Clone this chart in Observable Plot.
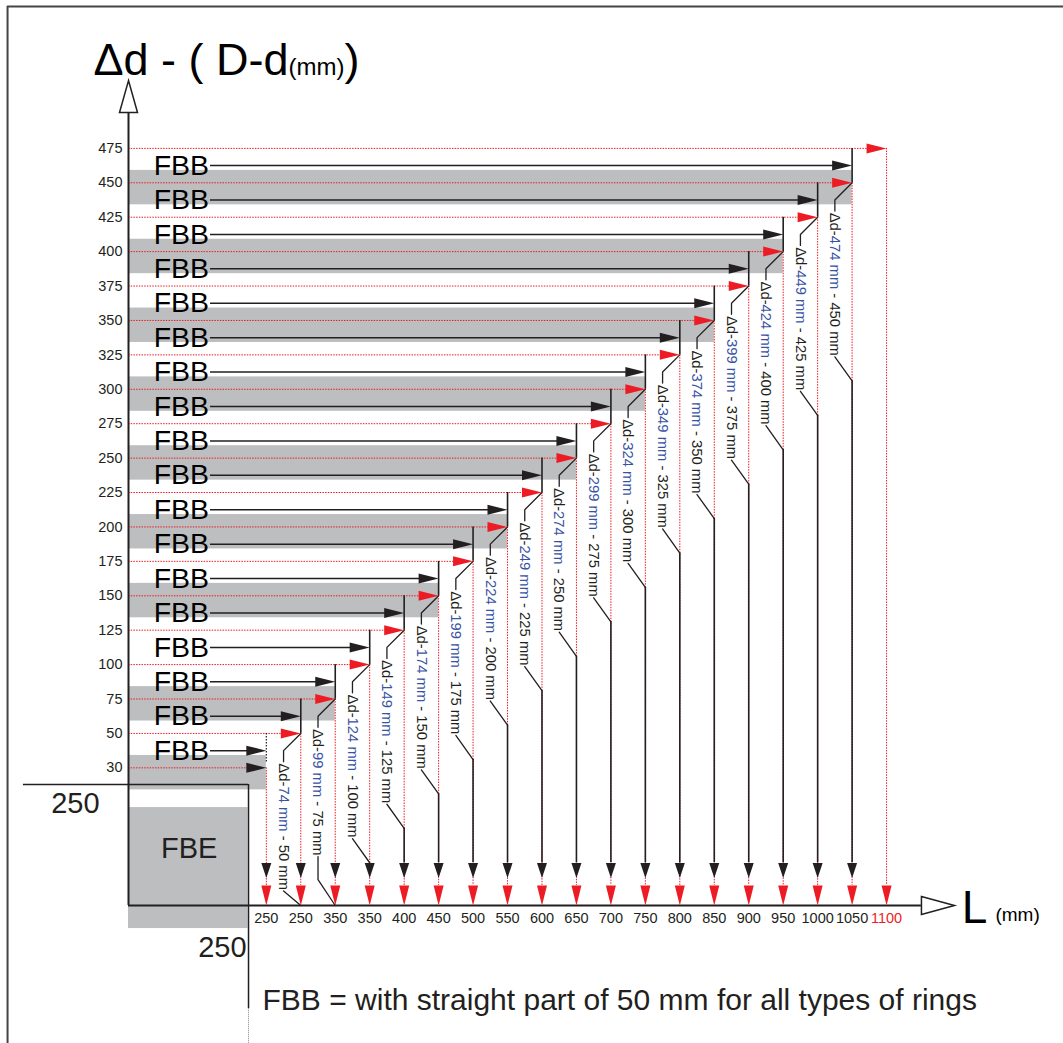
<!DOCTYPE html>
<html><head><meta charset="utf-8">
<script src="https://cdn.jsdelivr.net/npm/d3@7"></script>
<script src="https://cdn.jsdelivr.net/npm/@observablehq/plot@0.6"></script>
<style>body{margin:0;background:#fff} svg{display:block}</style>
</head><body><div id="chart"></div>
<script>
// ---- data ----
const yTicks = [30,50,75,100,125,150,175,200,225,250,275,300,325,350,375,400,425,450,475];
const xTicks = [250,250,350,350,400,450,500,550,600,650,700,750,800,850,900,950,1000,1050,1100];
const grayRows = [30,75,150,200,250,300,350,400,450];
const fbbFrom = [30,50,75,100,125,150,175,200,225,250,275,300,325,350,375,400,425,450]; // FBB row sits above this tick
const deltaD = [74,99,124,149,174,199,224,249,274,299,324,349,374,399,424,449,474];
const ringSize = [50,75,100,125,150,175,200,225,250,275,300,325,350,375,400,425,450];
const titleText = "Δd - ( D-d(mm))";
const noteText = "FBB = with straight part of 50 mm for all types of rings";

// ---- style ----
const BLACK = "#231f20", RED = "#ed1c24", BLUE = "#3953a4", GRAY = "#bcbec0";
const FONT = '"Liberation Sans", Arial, Helvetica, sans-serif';
const X0 = -4, X1 = 23.135, Y0 = -4, Y1 = 22.297;
const KY = 905 / (Y1 - Y0);
const LABEL_FS = 14.8;
const yi = v => yTicks.indexOf(v);

const ctx = document.createElement("canvas").getContext("2d");
ctx.font = `${LABEL_FS}px "Liberation Sans", Arial, sans-serif`;

const leaderPts = [];
const bottomRules = [];
const labels = deltaD.map((d, n) => {
  const j = n + 1, t = j;
  const text = `Δd-${d} mm - ${ringSize[n]} mm`;
  const start = t - 0.87;
  const len = ctx.measureText(text).width / KY;
  const e = start - len - 0.03;
  [[j, t], [n + 0.5, t - 0.5], [n + 0.5, t - 0.82]].forEach(([x, y]) => leaderPts.push({id: "t" + n, x, y}));
  if (e - 0.7 >= -2.95) {
    const end = Math.max(e - 0.7, -2.76);
    [[n + 0.5, e], [j, end]].forEach(([x, y]) => leaderPts.push({id: "b" + n, x, y}));
    if (end > -2.76) bottomRules.push({x: j, y1: end, y2: -2.76});
  } else {
    [[n + 0.5, e], [n + 0.5, Math.min(e, -3.25)], [j, -4]].forEach(([x, y]) => leaderPts.push({id: "b" + n, x, y}));
  }
  return {n, text, x: n + 0.5, y: start};
});

const tri = pts => ({draw(c) { c.moveTo(pts[0][0], pts[0][1]); for (const p of pts.slice(1)) c.lineTo(p[0], p[1]); c.closePath(); }});
const arrowR = tri([[0,0],[-20,-5],[-20,5]]);
const arrowDownBlack = tri([[0,0],[-5,-15],[5,-15]]);
const arrowDownRed = tri([[0,0],[-5,-20],[5,-20]]);
const openUp = tri([[0,0],[-9,32],[9,32]]);
const openRight = tri([[0,0],[-33,-9],[-33,9]]);

const dotted = {stroke: RED, strokeWidth: 1, strokeDasharray: "1.5,1.2"};
const cols = xTicks.map((v, i) => i);

const plot = Plot.plot({
  width: 1063, height: 1043, margin: 0,
  x: {domain: [X0, X1], range: [128, 1063], axis: null},
  y: {domain: [Y0, Y1], range: [905, 0], axis: null},
  style: {fontFamily: FONT, background: "#fff", overflow: "visible"},
  marks: [
    // outer border
    Plot.ruleY([22.12], {x1: -7.51, x2: X1, stroke: "#444", strokeWidth: 2}),
    Plot.ruleX([-7.51], {y1: 22.12, y2: -8.1, stroke: "#444", strokeWidth: 2}),
    // gray bands
    Plot.rect(grayRows, {x1: X0, x2: d => yi(d), y1: d => yi(d) - 0.64, y2: d => yi(d) + 0.36, fill: GRAY}),
    Plot.rect(["FBE"], {x1: X0, x2: -0.53, y1: -4.67, y2: -1.154, fill: GRAY}),
    // red dotted lines
    Plot.ruleY(yTicks, {y: d => yi(d), x1: X0, x2: d => yi(d) - 0.3, ...dotted}),
    Plot.ruleX(cols, {x: d => d, y1: d => d, y2: -3.42, ...dotted}),
    // black column segments between ticks
    Plot.ruleX(cols.slice(1, 18), {x: d => d, y1: d => d + 1, y2: d => d, stroke: BLACK, strokeWidth: 1.6}),
    Plot.ruleX([0], {y1: 1, y2: 0.15, stroke: BLACK, strokeWidth: 1.2, strokeDasharray: "1.5,1.5"}),
    // FBB arrows
    Plot.ruleY(fbbFrom, {y: d => yi(d) + 0.5, x1: -1.62, x2: d => yi(d) - 0.3, stroke: BLACK, strokeWidth: 1.5}),
    // leaders & lower black columns
    Plot.line(leaderPts, {x: "x", y: "y", z: "id", stroke: BLACK, strokeWidth: 1.3}),
    Plot.ruleX(bottomRules, {x: "x", y1: "y1", y2: "y2", stroke: BLACK, strokeWidth: 1.6}),
    // frame lines around FBE
    Plot.ruleY([-0.485], {x1: -7.05, x2: -0.517, stroke: BLACK, strokeWidth: 1.5}),
    Plot.ruleX([-0.517], {y1: -0.485, y2: -7.0, stroke: BLACK, strokeWidth: 1.5}),
    Plot.ruleX([-0.517], {y1: -7.0, y2: -8.1, stroke: "#888", strokeWidth: 1, strokeDasharray: "1,1"}),
    // axes
    Plot.ruleX([X0], {y1: Y0, y2: 19.04, stroke: BLACK, strokeWidth: 2}),
    Plot.ruleY([Y0], {x1: X0, x2: 19.01, stroke: BLACK, strokeWidth: 2}),
    Plot.dot([0], {x: X0, y: 19.97, symbol: openUp, fill: "#fff", stroke: BLACK, strokeWidth: 1.5}),
    Plot.dot([0], {x: 19.97, y: Y0, symbol: openRight, fill: "#fff", stroke: BLACK, strokeWidth: 1.5}),
    // arrowheads
    Plot.dot(yTicks.slice(1), {x: d => yi(d), y: d => yi(d), symbol: arrowR, fill: RED, stroke: "none"}),
    Plot.dot(yTicks.slice(0, 1), {x: d => yi(d), y: d => yi(d), symbol: arrowR, fill: BLACK, stroke: "none"}),
    Plot.dot(fbbFrom, {x: d => yi(d), y: d => yi(d) + 0.5, symbol: arrowR, fill: BLACK, stroke: "none"}),
    Plot.dot(cols.slice(0, 18), {x: d => d, y: -3.2, symbol: arrowDownBlack, fill: BLACK, stroke: "none"}),
    Plot.dot(cols, {x: d => d, y: Y0, symbol: arrowDownRed, fill: RED, stroke: "none"}),
    // tick labels
    Plot.text(yTicks, {x: X0, y: (d, i) => i, text: d => String(d), textAnchor: "end", dx: -6, fontSize: 14.5, fill: BLACK}),
    Plot.text(xTicks.slice(0, -1), {x: (d, i) => i, y: Y0, text: d => String(d), dy: 13, fontSize: 14.5, fill: BLACK}),
    Plot.text(xTicks.slice(-1), {x: xTicks.length - 1, y: Y0, text: d => String(d), dy: 13, fontSize: 14.5, fill: RED}),
    // FBB labels
    Plot.text(fbbFrom, {x: -3.27, y: d => yi(d) + 0.5, text: () => "FBB", textAnchor: "start", fontSize: 28.5, fill: "#000"}),
    // rotated Δd labels
    Plot.text(labels, {x: "x", y: "y", text: "text", rotate: 90, textAnchor: "start", fontSize: LABEL_FS, fill: BLACK}),
    // other texts
    Plot.text(["FBE"], {x: -2.24, y: -2.61, text: d => d, lineAnchor: "bottom", fontSize: 29, fill: BLACK}),
    Plot.text(["250"], {x: -4.84, y: -1.30, text: d => d, textAnchor: "end", lineAnchor: "bottom", fontSize: 29, fill: BLACK}),
    Plot.text(["250"], {x: -0.575, y: -5.51, text: d => d, textAnchor: "end", lineAnchor: "bottom", fontSize: 29, fill: BLACK}),
    Plot.text([noteText], {x: -0.11, y: -7.05, text: d => d, textAnchor: "start", lineAnchor: "bottom", fontSize: 30, fill: BLACK}),
    Plot.text([titleText], {x: -5.015, y: 20.12, text: d => d, textAnchor: "start", lineAnchor: "bottom", fontSize: 45, fill: "#000"}),
    Plot.text(["L"], {x: 20.18, y: -4.495, text: d => d, textAnchor: "start", lineAnchor: "bottom", fontSize: 46, fill: "#000"}),
    Plot.text(["(mm)"], {x: 21.16, y: -4.44, text: d => d, textAnchor: "start", lineAnchor: "bottom", fontSize: 19, fill: "#000"})
  ]
});

// colour / size runs inside texts
const NS = "http://www.w3.org/2000/svg";
function runs(t, parts) {
  t.textContent = "";
  for (const p of parts) {
    const s = document.createElementNS(NS, "tspan");
    s.textContent = p.text;
    if (p.fill) s.setAttribute("fill", p.fill);
    if (p.size) s.setAttribute("font-size", p.size);
    t.appendChild(s);
  }
}
plot.querySelectorAll("text").forEach(t => {
  const s = t.textContent;
  const m = s.match(/^(Δd-)(\d+ mm)( - \d+ mm)$/);
  if (m) runs(t, [{text: m[1]}, {text: m[2], fill: BLUE}, {text: m[3]}]);
  else if (s === titleText) runs(t, [{text: "Δd - ( D-d"}, {text: "(mm)", size: 24}, {text: ")"}]);
});
document.getElementById("chart").appendChild(plot);
</script>
</body></html>
